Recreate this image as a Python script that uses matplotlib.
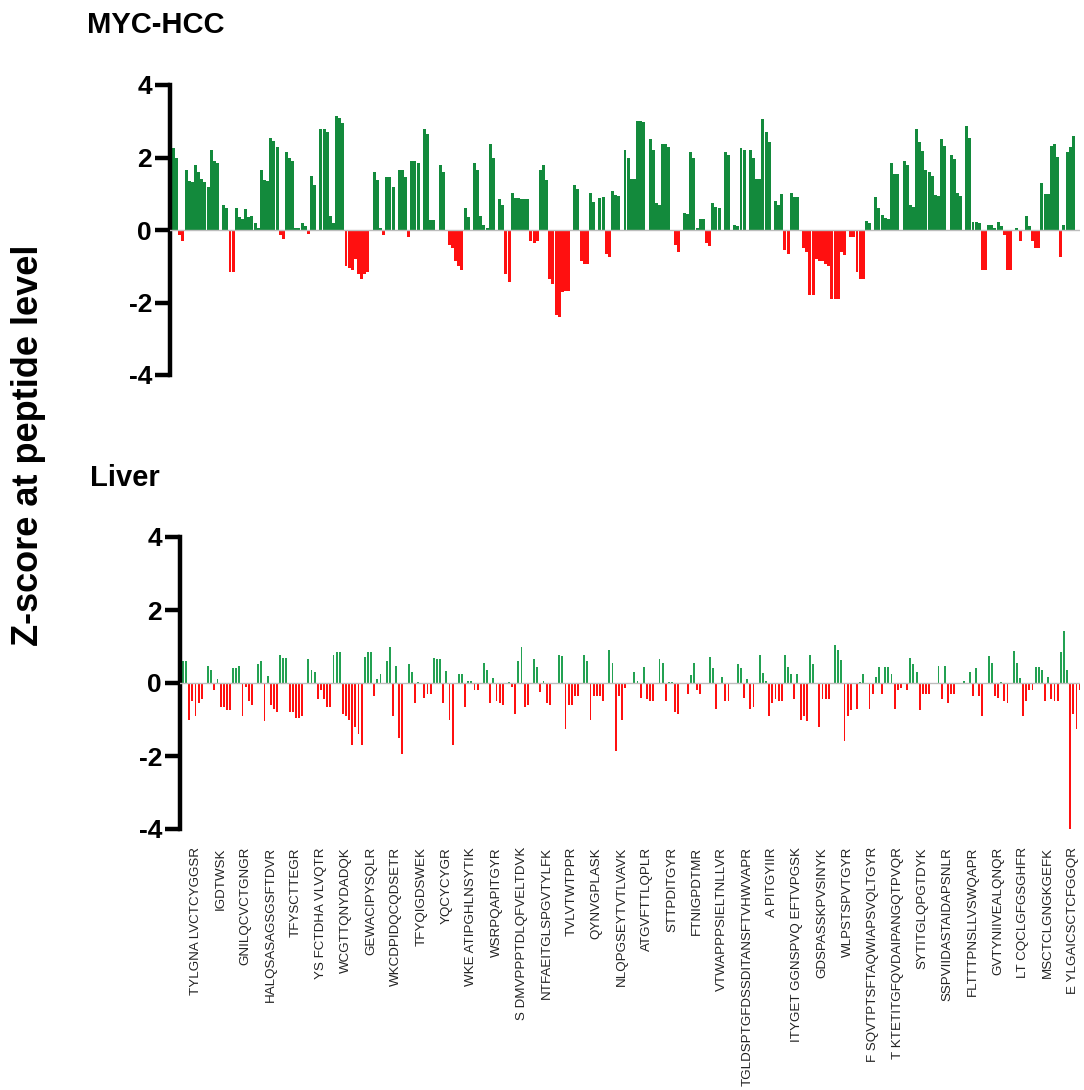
import numpy as np
import matplotlib
matplotlib.use('Agg')
import matplotlib.pyplot as plt

plt.rcParams['font.family'] = ['Liberation Sans', 'DejaVu Sans']
plt.rcParams['axes.unicode_minus'] = False

# z-scores per peptide
myc_hcc = [
    2.25, 2.0, -0.15, -0.3, 1.65, 1.35, 1.33, 1.8, 1.6, 1.4,
    1.33, 1.2, 2.2, 1.9, 1.85, 0.0, 0.7, 0.6, -1.15, -1.15,
    0.62, 0.37, 0.3, 0.57, 0.37, 0.4, 0.18, 0.05, 1.65, 1.38,
    1.35, 2.55, 2.45, 2.3, -0.15, -0.25, 2.15, 2.0, 1.9, 0.05,
    0.05, 0.2, 0.1, -0.1, 1.5, 1.25, 0.0, 2.8, 2.8, 2.7,
    0.4, 0.2, 3.15, 3.1, 2.95, -1.0, -1.05, -1.1, -0.8, -1.2,
    -1.35, -1.2, -1.15, 0.0, 1.6, 1.38, 0.05, -0.15, 1.47, 1.45,
    1.2, 0.0, 1.65, 1.65, 1.47, -0.2, 1.9, 1.9, 1.85, 0.0,
    2.8, 2.65, 0.28, 0.28, 0.0, 1.78, 1.6, 0.0, -0.4, -0.5,
    -0.85, -1.0, -1.1, 0.62, 0.37, 0.0, 1.85, 1.65, 0.4, 0.15,
    0.05, 2.37, 2.0, 0.0, 0.85, 0.7, -1.2, -1.43, 1.03, 0.87,
    0.87, 0.85, 0.85, 0.85, -0.3, -0.35, -0.3, 1.65, 1.8, 1.38,
    -1.35, -1.5, -2.35, -2.4, -1.7, -1.67, -1.67, 0.0, 1.24, 1.12,
    -0.85, -0.95, -0.95, 1.03, 0.78, 0.0, 0.87, 0.9, -0.65, -0.75,
    1.08, 0.97, 0.95, 0.0, 2.2, 2.0, 1.42, 1.42, 3.0, 3.0,
    2.97, 0.0, 2.5, 2.2, 0.74, 0.69, 2.37, 2.37, 2.3, 0.0,
    -0.4, -0.6, 0.0, 0.48, 0.45, 2.16, 2.0, 0.05, 0.3, 0.3,
    -0.35, -0.45, 0.74, 0.64, 0.62, 0.0, 2.16, 2.07, 0.0, 0.14,
    0.1, 2.25, 2.2, 0.0, 2.2, 2.0, 1.42, 1.42, 3.05, 2.7,
    2.44, 0.0, 0.81, 0.69, 0.98, -0.55, -0.65, 1.03, 0.9, 0.9,
    0.0, -0.5, -0.6, -1.8, -1.8, -0.8, -0.85, -0.85, -0.95, -1.0,
    -1.9, -1.9, -1.9, -0.6, -0.7, 0.0, -0.2, -0.2, -1.15, -1.35,
    -1.35, 0.26, 0.2, 0.0, 0.9, 0.62, 0.41, 0.32, 0.3, 1.84,
    1.55, 1.55, 0.0, 1.91, 1.8, 0.69, 0.64, 2.78, 2.44, 2.18,
    1.65, 1.6, 1.49, 0.97, 0.94, 2.5, 2.32, 0.0, 2.07, 1.95,
    1.03, 0.94, 0.0, 2.88, 2.53, 0.23, 0.23, 0.2, -1.1, -1.1,
    0.14, 0.14, 0.05, 0.23, 0.1, -0.15, -1.1, -1.1, 0.0, 0.05,
    -0.3, 0.0, 0.39, 0.1, -0.3, -0.5, -0.5, 1.31, 1.0, 1.0,
    2.32, 2.37, 2.02, -0.75, 0.14, 2.16, 2.3, 2.6, 0.0, 0.0,
]

liver = [
    0.0, 0.0, 0.0, 0.59, 0.59, -1.0, -0.5, -0.9, -0.55, -0.45,
    0.0, 0.47, 0.36, -0.2, 0.1, -0.65, -0.65, -0.75, -0.75, 0.42,
    0.42, 0.47, -0.9, -0.1, -0.5, -0.6, 0.0, 0.52, 0.59, -1.05,
    0.2, -0.6, -0.7, -0.8, 0.77, 0.68, 0.68, -0.8, -0.8, -0.95,
    -0.95, -0.9, 0.0, 0.65, 0.36, 0.3, -0.45, -0.2, -0.45, -0.65,
    -0.65, 0.77, 0.86, 0.86, -0.85, -0.9, -1.0, -1.7, -1.2, -1.4,
    -1.7, 0.7, 0.86, 0.86, -0.35, 0.1, 0.25, 0.0, 0.59, 1.0,
    -0.9, 0.47, -1.5, -1.95, 0.0, 0.52, 0.31, -0.55, 0.02, 0.0,
    -0.4, -0.3, -0.3, 0.68, 0.65, 0.65, -0.55, 0.34, -1.0, -1.7,
    0.0, 0.25, 0.25, -0.65, 0.05, 0.05, -0.2, -0.2, 0.0, 0.54,
    0.36, -0.55, 0.13, -0.5, -0.55, -0.6, 0.0, 0.03, -0.1, -0.85,
    0.59, 1.0, -0.65, -0.6, 0.0, 0.65, 0.45, -0.25, 0.05, -0.55,
    -0.6, 0.0, 0.0, 0.77, 0.73, -1.25, -0.6, -0.6, -0.35, -0.35,
    0.0, 0.77, 0.59, -1.0, -0.35, -0.35, -0.35, -0.5, 0.0, 0.9,
    0.56, -1.85, -0.35, -1.0, -0.15, 0.0, 0.0, 0.31, 0.05, -0.4,
    0.43, -0.45, -0.5, -0.5, 0.0, 0.65, 0.54, -0.5, 0.03, 0.03,
    -0.8, -0.85, 0.0, 0.0, -0.3, 0.22, 0.54, -0.2, -0.3, 0.0,
    0.0, 0.7, 0.4, -0.7, 0.0, 0.17, -0.5, -0.5, 0.0, 0.0,
    0.52, 0.4, -0.4, 0.1, -0.7, -0.65, 0.0, 0.77, 0.27, 0.05,
    -0.9, -0.55, -0.45, -0.5, -0.5, 0.77, 0.45, 0.25, -0.45, 0.25,
    -1.0, -0.9, -1.05, 0.77, 0.52, 0.0, -1.2, -0.45, -0.45, -0.45,
    0.0, 1.05, 0.91, 0.63, -1.6, -0.9, -0.75, 0.0, -0.7, 0.03,
    0.25, 0.0, -0.7, -0.3, 0.17, 0.43, -0.3, 0.43, 0.43, 0.25,
    -0.7, -0.2, -0.15, 0.0, -0.2, 0.68, 0.52, 0.31, -0.75, -0.3,
    -0.3, -0.3, 0.0, 0.0, 0.47, -0.45, 0.47, -0.55, -0.3, -0.3,
    0.0, 0.0, 0.05, 0.0, 0.31, -0.35, 0.42, -0.35, -0.9, 0.0,
    0.73, 0.56, -0.35, -0.4, 0.02, -0.5, -0.55, 0.0, 0.89, 0.54,
    0.15, -0.9, -0.5, -0.2, -0.2, 0.43, 0.43, 0.36, -0.5, 0.17,
    -0.45, -0.5, -0.5, 0.86, 1.42, 0.36, -4.0, -0.85, -1.25, -0.2,
]

peptides = [
    'TYLGNA LVCTCYGGSR', 'IGDTWSK', 'GNILQCVCTGNGR', 'HALQSASAGSGSFTDVR',
    'TFYSCTTEGR', 'YS FCTDHA VLVQTR', 'WCGTTQNYDADQK', 'GEWACIPYSQLR',
    'WKCDPIDQCQDSETR', 'TFYQIGDSWEK', 'YQCYCYGR', 'WKE ATIPGHLNSYTIK',
    'WSRPQAPITGYR', 'S DMVPPPTDLQFVELTDVK', 'NTFAEITGLSPGVTYLFK', 'TVLVTWTPPR',
    'QYNVGPLASK', 'NLQPGSEYTVTLVAVK', 'ATGVFTTLQPLR', 'STTPDITGYR',
    'FTNIGPDTMR', 'VTWAPPPSIELTNLLVR', 'TGLDSPTGFDSSDITANSFTVHWVAPR', 'A PITGYIIR',
    'ITYGET GGNSPVQ EFTVPGSK', 'GDSPASSKPVSINYK', 'WLPSTSPVTGYR', 'F SQVTPTSFTAQWIAPSVQLTGYR',
    'T KTETITGFQVDAIPANGQTPVQR', 'SYTITGLQPGTDYK', 'SSPVIIDASTAIDAPSNLR', 'FLTTTPNSLLVSWQAPR',
    'GVTYNIIVEALQNQR', 'LT CQCLGFGSGHFR', 'MSCTCLGNGKGEFK', 'E YLGAICSCTCFGGQR',
]
label_idx = np.arange(7, 7 + 8 * len(peptides), 8)

green = '#138a3c'
green_lt = '#23a152'
red = '#ff1010'

W, H = 1084, 1090
fig = plt.figure(figsize=(W / 100, H / 100), dpi=100)

# pixel layout helpers
step = 3.135
x0 = 172


def px_axes(left, right, top, bottom):
    return fig.add_axes([left / W, 1 - bottom / H, (right - left) / W, (bottom - top) / H])


def style(ax, left_px):
    for s in ['top', 'right', 'bottom']:
        ax.spines[s].set_visible(False)
    ax.spines['left'].set_linewidth(3.2)
    ax.set_ylim(-4, 4)
    ax.set_yticks([-4, -2, 0, 2, 4])
    ax.tick_params(axis='y', length=11, width=3.2, pad=2, labelsize=19)
    for t in ax.get_yticklabels():
        t.set_fontweight('bold')
    ax.set_xlim((left_px - x0) / step - 0.5, (1080 - x0) / step - 0.5)
    ax.axhline(0, color='#bdbdbd', lw=1.0, zorder=3)


ax1 = px_axes(170, 1080, 85, 375)
v1 = np.array(myc_hcc)
x1 = np.arange(len(v1))
ax1.bar(x1, v1, width=0.95, color=np.where(v1 >= 0, green, red), linewidth=0)
style(ax1, 170)
ax1.set_xticks([])

ax2 = px_axes(180, 1080, 537, 829)
v2 = np.array(liver)
x2 = np.arange(len(v2))
ax2.bar(x2, v2, width=0.6, color=np.where(v2 >= 0, green_lt, red), linewidth=0)
style(ax2, 180)
ax2.set_xticks(label_idx)
ax2.set_xticklabels(peptides, rotation=90, fontsize=9.6, color='#222222')
ax2.tick_params(axis='x', length=0, pad=13)

fig.text(87 / W, 1 - 25 / H, 'MYC-HCC', fontsize=21, fontweight='bold', ha='left', va='center')
fig.text(90 / W, 1 - 478 / H, 'Liver', fontsize=21, fontweight='bold', ha='left', va='center')
fig.text(29 / W, 1 - 445 / H, 'Z-score at peptide level', fontsize=26, fontweight='bold',
         rotation=90, ha='center', va='center')

fig.savefig('out.png', dpi=100)
